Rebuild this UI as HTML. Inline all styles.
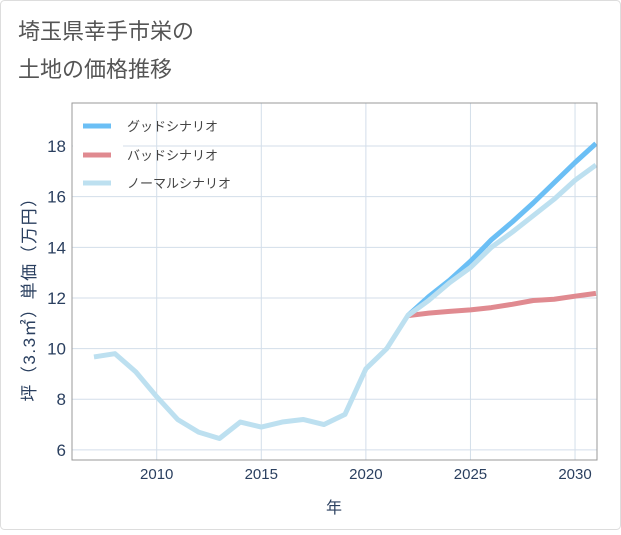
<!DOCTYPE html>
<html><head><meta charset="utf-8"><style>
html,body{margin:0;padding:0;background:#fff;}
body{width:621px;height:530px;overflow:hidden;font-family:"Liberation Sans","Noto Sans CJK JP",sans-serif;}
</style></head><body>
<svg id="chart" width="621" height="530" xmlns="http://www.w3.org/2000/svg" font-family="Liberation Sans, Noto Sans CJK JP, sans-serif">
<rect x="0.5" y="0.5" width="620" height="529" rx="4" fill="#fff" stroke="#ddd"/>
<text x="18" y="39" font-size="22" fill="#555">埼玉県幸手市栄の</text>
<text x="18" y="77" font-size="22" fill="#555">土地の価格推移</text>
<g id="grid"></g>
<g id="series"></g>
<g id="axes"></g>
<text x="334" y="513" font-size="16" fill="#2a3f5f" text-anchor="middle">年</text>
<text transform="translate(35,295) rotate(-90)" font-size="17" fill="#2a3f5f" text-anchor="middle" letter-spacing="1.5">坪（3.3㎡）単価（万円）</text>
<g>
<line x1="83" y1="126" x2="111" y2="126" stroke="#6bbff5" stroke-width="5"/>
<text x="127" y="131" font-size="13" fill="#444">グッドシナリオ</text>
<line x1="83" y1="155" x2="111" y2="155" stroke="#e08a90" stroke-width="5"/>
<text x="127" y="160" font-size="13" fill="#444">バッドシナリオ</text>
<line x1="83" y1="183" x2="111" y2="183" stroke="#bde0f0" stroke-width="5"/>
<text x="127" y="188" font-size="13" fill="#444">ノーマルシナリオ</text>
</g>
</svg>
<script>
const yearsNormal=[2007,2008,2009,2010,2011,2012,2013,2014,2015,2016,2017,2018,2019,2020,2021,2022,2023,2024,2025,2026,2027,2028,2029,2030,2031];
const valuesNormal=[9.67,9.8,9.08,8.1,7.2,6.7,6.45,7.1,6.9,7.1,7.2,7.0,7.4,9.2,10.0,11.3,11.9,12.6,13.2,14.0,14.6,15.25,15.9,16.65,17.25];
const yearsForecast=[2022,2023,2024,2025,2026,2027,2028,2029,2030,2031];
const valuesGood=[11.3,12.05,12.7,13.45,14.3,15.0,15.75,16.55,17.35,18.1];
const valuesBad=[11.3,11.4,11.47,11.53,11.62,11.75,11.9,11.95,12.07,12.18];
const xTicks=[2010,2015,2020,2025,2030];
const yTicks=[6,8,10,12,14,16,18];
const L=72,R=597,T=103,B=460,X0=2005.95,X1=2031.05,Y0=5.6,Y1=19.7;
const sx=v=>L+(v-X0)/(X1-X0)*(R-L);
const sy=v=>B-(v-Y0)/(Y1-Y0)*(B-T);
const NS="http://www.w3.org/2000/svg";
function mk(tag,attrs,parent){const e=document.createElementNS(NS,tag);for(const k in attrs)e.setAttribute(k,attrs[k]);parent.appendChild(e);return e;}
const grid=document.getElementById('grid'),axes=document.getElementById('axes'),series=document.getElementById('series');
xTicks.forEach(t=>{
 const l=mk('line',{x1:sx(t),x2:sx(t),y1:T,y2:B,stroke:'#d3deea','stroke-width':1},grid);
 
 
 const tx=mk('text',{x:sx(t),y:B+19,'font-size':15,fill:'#2a3f5f','text-anchor':'middle'},axes);
 tx.textContent=t;
 
 
});
yTicks.forEach(t=>{
 const l=mk('line',{x1:L,x2:R,y1:sy(t),y2:sy(t),stroke:'#d3deea','stroke-width':1},grid);
 
 
 const tx=mk('text',{x:L-6,y:sy(t)+6,'font-size':17,fill:'#2a3f5f','text-anchor':'end'},axes);
 tx.textContent=t;
 
 
});
const fr=mk('rect',{x:L,y:T,width:R-L,height:B-T,fill:'none',stroke:'#999','stroke-width':1},axes);


const lb=mk('rect',{x:L+1,y:T+1,width:50,height:92,fill:'#fff'},grid);


function line(xs,ys,color,name){
 const p=mk('polyline',{points:xs.map((x,i)=>sx(x)+','+sy(ys[i])).join(' '),fill:'none',stroke:color,'stroke-width':5,'stroke-linejoin':'round'},series);
 
 
}
line(yearsForecast,valuesGood,'#6bbff5','good-scenario-line');
line(yearsForecast,valuesBad,'#e08a90','bad-scenario-line');
line(yearsNormal,valuesNormal,'#bde0f0','normal-scenario-line');
</script>
</body></html>
